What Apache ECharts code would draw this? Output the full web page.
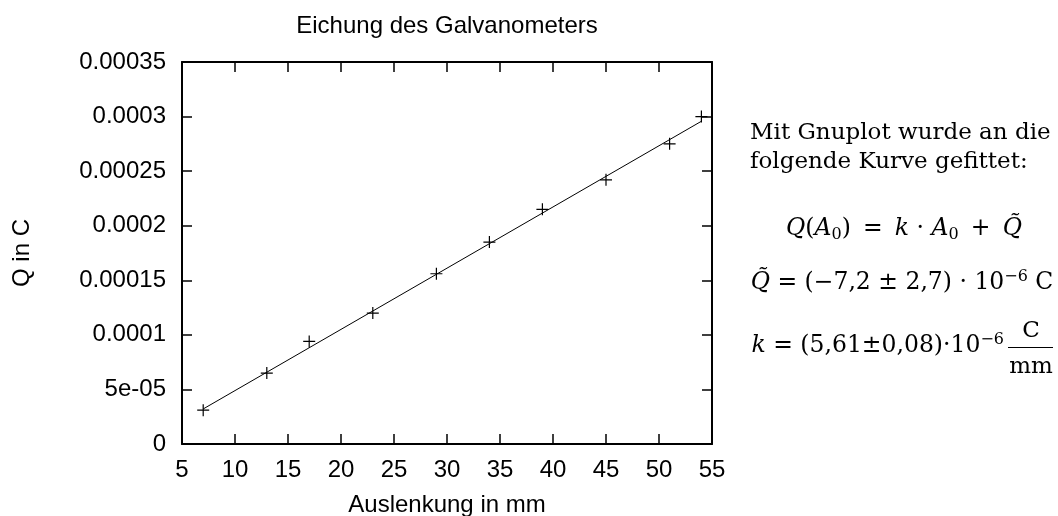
<!DOCTYPE html>
<html>
<head>
<meta charset="utf-8">
<script src="https://cdn.jsdelivr.net/npm/echarts@6/dist/echarts.min.js"></script>
<style>
html,body{margin:0;padding:0;background:#fff;}
#chart{width:1058px;height:516px;}
</style>
</head>
<body>
<div id="chart"></div>
<script>
// ---- data ----
const auslenkung = [7, 13, 17, 23, 29, 34, 39, 45, 51, 54];          // mm
const ladung = [3.1e-5, 6.5e-5, 9.4e-5, 1.2e-4, 1.56e-4, 1.85e-4, 2.15e-4, 2.42e-4, 2.75e-4, 3.0e-4]; // C
const fitX = [7, 54];
const fitQ = [3.21e-5, 2.957e-4];
const yTickLabels = ['0', '5e-05', '0.0001', '0.00015', '0.0002', '0.00025', '0.0003', '0.00035'];
const xTickStep = 5;
const yTickStep = 0.00005;

const sans = 'Liberation Sans, Arial, sans-serif';
const serif = 'DejaVu Serif, serif';

const chart = echarts.init(document.getElementById('chart'));

const baseAxisLine = {show: true, onZero: false, lineStyle: {color: '#000', width: 2}};
const baseTick = {show: true, inside: true, length: 10, lineStyle: {color: '#000', width: 1.5}};

const mathRich = {
  r: {fontFamily: serif, fontSize: 23.5, lineHeight: 28, color: '#000'},
  i: {fontFamily: serif, fontSize: 23.5, lineHeight: 28, fontStyle: 'italic', color: '#000'},
  sub: {fontFamily: serif, fontSize: 16, lineHeight: 15, verticalAlign: 'bottom', color: '#000'},
  sup: {fontFamily: serif, fontSize: 16, lineHeight: 15, verticalAlign: 'top', color: '#000'}
};

const option = {
  backgroundColor: '#fff',
  animation: false,
  grid: {left: 182, right: 346, top: 62, bottom: 72, containLabel: false, outerBoundsMode: 'none'},
  xAxis: [{
    type: 'value', min: 5, max: 55, interval: xTickStep, position: 'bottom',
    name: 'Auslenkung in mm', nameLocation: 'middle', nameGap: 49,
    nameTextStyle: {fontFamily: sans, fontSize: 24, color: '#000'},
    axisLine: baseAxisLine, axisTick: baseTick, splitLine: {show: false},
    axisLabel: {fontFamily: sans, fontSize: 24, color: '#000', margin: 14}
  }, {
    type: 'value', min: 5, max: 55, interval: xTickStep, position: 'top',
    axisLine: baseAxisLine, axisTick: baseTick, splitLine: {show: false},
    axisLabel: {show: false}
  }],
  yAxis: [{
    type: 'value', min: 0, max: 0.00035, interval: yTickStep, position: 'left',
    name: 'Q in C', nameLocation: 'middle', nameGap: 148,
    nameTextStyle: {fontFamily: sans, fontSize: 24, color: '#000'},
    axisLine: baseAxisLine, axisTick: baseTick, splitLine: {show: false},
    axisLabel: {fontFamily: sans, fontSize: 24, color: '#000', margin: 16,
      formatter: function (v) { return yTickLabels[Math.round(v / yTickStep)]; }}
  }, {
    type: 'value', min: 0, max: 0.00035, interval: yTickStep, position: 'right',
    axisLine: baseAxisLine, axisTick: baseTick, splitLine: {show: false},
    axisLabel: {show: false}
  }],
  series: [{
    type: 'line',
    xAxisIndex: 0, yAxisIndex: 0,
    data: fitX.map((x, i) => [x, fitQ[i]]),
    showSymbol: false, symbol: 'none',
    lineStyle: {color: '#000', width: 1},
    z: 2
  }, {
    type: 'scatter',
    xAxisIndex: 0, yAxisIndex: 0,
    data: auslenkung.map((x, i) => [x, ladung[i]]),
    symbol: 'path://M0,5L10,5M5,0L5,10',
    symbolSize: 12,
    itemStyle: {color: 'transparent', borderColor: '#000', borderWidth: 1.2, opacity: 1},
    z: 3
  }],
  graphic: [
    {type: 'text', x: 447, y: 26, style: {text: 'Eichung des Galvanometers', fontFamily: sans, fontSize: 24, fill: '#000', align: 'center', verticalAlign: 'middle'}},
    {type: 'text', x: 750, y: 148, style: {text: 'Mit Gnuplot wurde an die\nfolgende Kurve gefittet:', fontFamily: serif, fontSize: 23, lineHeight: 29, fill: '#000', align: 'left', verticalAlign: 'middle'}},
    {type: 'text', x: 904, y: 229, style: {text: '{i|Q}{r|(}{i|A}{sub|0}{r|)\u2009 = \u2009}{i|k}{r| · }{i|A}{sub|0}{r|\u2009 + \u2009}{i|Q\u0303}', rich: mathRich, align: 'center', verticalAlign: 'middle'}},
    {type: 'text', x: 902, y: 283, style: {text: '{i|Q\u0303}{r| = (\u22127,2 ± 2,7) · 10}{sup|\u22126}{r| C}', rich: mathRich, align: 'center', verticalAlign: 'middle'}},
    {type: 'text', x: 1004, y: 346, style: {text: '{i|k}{r| = (5,61±0,08)·10}{sup|\u22126}', rich: mathRich, align: 'right', verticalAlign: 'middle'}},
    {type: 'text', x: 1031, y: 331, style: {text: 'C', fontFamily: serif, fontSize: 23, fill: '#000', align: 'center', verticalAlign: 'middle'}},
    {type: 'line', shape: {x1: 1008, y1: 347.5, x2: 1053, y2: 347.5}, style: {stroke: '#000', lineWidth: 1}},
    {type: 'text', x: 1031, y: 367, style: {text: 'mm', fontFamily: serif, fontSize: 23, fill: '#000', align: 'center', verticalAlign: 'middle'}}
  ]
};
chart.setOption(option);
</script>
</body>
</html>
